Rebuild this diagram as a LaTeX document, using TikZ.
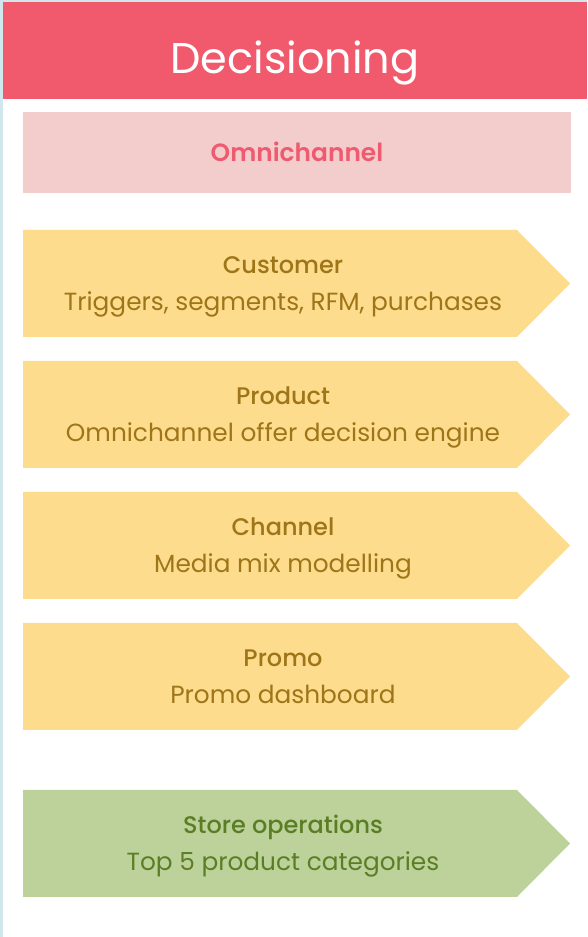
\documentclass[tikz,border=0pt]{standalone}
\usepackage{fontspec}
\setmainfont{Poppins}
\newfontfamily\semib{Poppins SemiBold}
\newfontfamily\medium{Poppins Medium}
\definecolor{bgblue}{HTML}{CFE7ED}
\definecolor{headred}{HTML}{F15A6C}
\definecolor{pinkbox}{HTML}{F3CCCC}
\definecolor{pinktext}{HTML}{EE5B71}
\definecolor{yel}{HTML}{FDDC8D}
\definecolor{yeltext}{HTML}{9E7518}
\definecolor{grn}{HTML}{BDD29A}
\definecolor{grntext}{HTML}{5B7E25}
\tikzset{
  ttl/.style={anchor=base, inner sep=0pt, font=\medium\fontsize{24}{28}\selectfont},
  sub/.style={anchor=base, inner sep=0pt, font=\fontsize{24.8}{29}\selectfont},
}
% \arrowbox{name}{top}{bottom}{fill}{textcolor}{title}{subtitle}  (y in px from top)
\newcommand{\arrowbox}[7]{%
  \fill[#4] (23pt,{937pt-#2pt}) -- (517pt,{937pt-#2pt}) -- (570pt,{937pt-(#2pt+#3pt)/2}) -- (517pt,{937pt-#3pt}) -- (23pt,{937pt-#3pt}) -- cycle;
  \node[ttl,text=#5] (#1t) at (283pt,{937pt-#2pt-43.3pt}) {#6};
  \node[sub,text=#5] (#1s) at (283pt,{937pt-#2pt-81pt}) {#7};
}
\begin{document}
\begin{tikzpicture}[x=1pt,y=1pt]
\useasboundingbox (0,0) rectangle (587,937);
\fill[bgblue] (0,0) rectangle (587,937);
\fill[white] (3,0) rectangle (587,935);
\fill[headred] (3,838) rectangle (587,935);
\node[anchor=base, inner sep=0pt, text=white, font=\fontsize{43}{50}\selectfont] (head) at (295,863.2) {Decisioning};
\fill[pinkbox] (23,743.5) rectangle (571,825);
\node[anchor=base, inner sep=0pt, text=pinktext, font=\semib\fontsize{24.9}{29}\selectfont] (omni) at (297,775) {Omnichannel};
\arrowbox{cust}{230}{337}{yel}{yeltext}{Customer}{Triggers, segments, RFM, purchases}
\arrowbox{prod}{361}{468}{yel}{yeltext}{Product}{Omnichannel offer decision engine}
\arrowbox{chan}{492}{599}{yel}{yeltext}{Channel}{Media mix modelling}
\arrowbox{promo}{623}{730}{yel}{yeltext}{Promo}{Promo dashboard}
\arrowbox{store}{790}{897}{grn}{grntext}{Store operations}{Top 5 product categories}
\end{tikzpicture}
\end{document}
